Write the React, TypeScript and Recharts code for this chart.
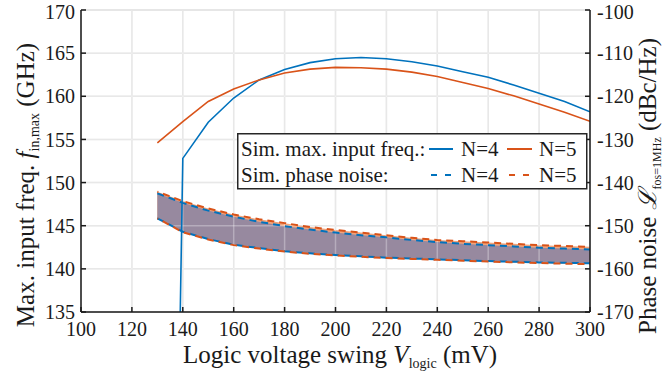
import React from 'react';
import { ComposedChart, Line, Area, XAxis, YAxis, CartesianGrid, Legend, ReferenceLine } from 'recharts';

// Logic voltage swing (mV)
const vLogic = [130, 140, 150, 160, 170, 180, 190, 200, 210, 220, 230, 240, 250, 260, 270, 280, 290, 300];
// Sim. max. input freq. (GHz)
const fmaxN4 = [-25, 152.8, 157.0, 159.8, 161.9, 163.1, 163.9, 164.35, 164.5, 164.35, 164.0, 163.5, 162.85, 162.2, 161.3, 160.35, 159.4, 158.2];
const fmaxN5 = [154.6, 157.05, 159.4, 160.85, 161.9, 162.7, 163.15, 163.35, 163.3, 163.15, 162.8, 162.3, 161.6, 160.9, 160.05, 159.1, 158.15, 157.1];
// Sim. phase noise (dBc/Hz), upper and lower bounds
const pnUpperN4 = [-142.5, -144.7, -146.5, -147.9, -149.1, -150.1, -150.9, -151.6, -152.2, -152.7, -153.3, -153.8, -154.2, -154.5, -154.8, -155.1, -155.3, -155.5];
const pnLowerN4 = [-148.3, -151.4, -153.1, -154.4, -155.2, -155.9, -156.4, -156.8, -157.1, -157.4, -157.6, -157.8, -158.0, -158.2, -158.35, -158.5, -158.6, -158.7];
const pnUpperN5 = [-142.1, -144.3, -146.0, -147.4, -148.5, -149.4, -150.3, -151.0, -151.6, -152.2, -152.8, -153.3, -153.6, -153.9, -154.2, -154.5, -154.7, -154.9];
const pnLowerN5 = [-148.3, -151.5, -153.2, -154.5, -155.3, -156.0, -156.5, -156.9, -157.2, -157.5, -157.7, -157.9, -158.1, -158.3, -158.5, -158.65, -158.8, -158.9];

const xTicks = [100, 120, 140, 160, 180, 200, 220, 240, 260, 280, 300];
const leftTicks = [135, 140, 145, 150, 155, 160, 165, 170];
const rightTicks = [-170, -160, -150, -140, -130, -120, -110, -100];

const BLUE = '#0072BD';
const ORANGE = '#D95319';
const GRID = '#dedede';
const FONT = '"Liberation Serif", "Times New Roman", serif';

const data = vLogic.map((v, i) => ({
  v,
  f4: fmaxN4[i],
  f5: fmaxN5[i],
  up4: pnUpperN4[i],
  lo4: pnLowerN4[i],
  up5: pnUpperN5[i],
  lo5: pnLowerN5[i],
  band4: [pnLowerN4[i], pnUpperN4[i]],
  band5: [pnLowerN5[i], pnUpperN5[i]],
}));

const tickStyle = { fontFamily: FONT, fontSize: 20, fill: '#1a1a1a' };

const XTitle = () => (
  <text x={340} y={363} textAnchor="middle" fontFamily={FONT} fontSize={25} fill="#1a1a1a">
    Logic voltage swing <tspan fontStyle="italic">V</tspan>
    <tspan fontSize={14} dy={5}>logic</tspan>
    <tspan dy={-5}> (mV)</tspan>
  </text>
);

const LeftTitle = () => (
  <text x={34} y={185} transform="rotate(-90 34 185)" textAnchor="middle" fontFamily={FONT} fontSize={25} fill="#1a1a1a">
    Max. input freq. <tspan fontStyle="italic">f</tspan>
    <tspan fontSize={14} dy={5}>in,max</tspan>
    <tspan dy={-5}> (GHz)</tspan>
  </text>
);

const RightTitle = () => (
  <text x={656} y={186} transform="rotate(-90 656 186)" textAnchor="middle" fontFamily={FONT} fontSize={25} fill="#1a1a1a">
    Phase noise <tspan fontStyle="italic">ℒ</tspan>
    <tspan fontSize={12} dy={5}>fos=1MHz</tspan>
    <tspan dy={-5}> (dBc/Hz)</tspan>
  </text>
);

const LegendBox = () => (
  <svg width={352} height={58} style={{ display: 'block' }}>
    <rect x={0.75} y={0.75} width={349} height={55} fill="#fff" stroke="#262626" strokeWidth={1.5} />
    <g fontFamily={FONT} fontSize={21} fill="#1a1a1a">
      <text x={4} y={23}>Sim. max. input freq.:</text>
      <text x={4} y={49}>Sim. phase noise:</text>
      <text x={224} y={23}>N=4</text>
      <text x={302} y={23}>N=5</text>
      <text x={224} y={49}>N=4</text>
      <text x={302} y={49}>N=5</text>
    </g>
    <line x1={192} x2={216} y1={16} y2={16} stroke={BLUE} strokeWidth={2} />
    <line x1={270} x2={295} y1={16} y2={16} stroke={ORANGE} strokeWidth={2} />
    <line x1={194} x2={215} y1={42} y2={42} stroke={BLUE} strokeWidth={2} strokeDasharray="6 8" />
    <line x1={272} x2={293} y1={42} y2={42} stroke={ORANGE} strokeWidth={2} strokeDasharray="6 8" />
  </svg>
);

export default function App() {
  return (
    <div style={{ position: 'absolute', left: 0, top: 0, width: 665, height: 375, background: '#fff' }}>
      <ComposedChart width={665} height={375} data={data} margin={{ top: 10, right: 0, bottom: 0, left: 0 }}>
        <CartesianGrid xAxisId="bottom" yAxisId="left" stroke={GRID} strokeWidth={1.5} vertical horizontal />
        {xTicks.slice(1, -1).map((t) => (
          <ReferenceLine key={'x' + t} xAxisId="bottom" yAxisId="left" x={t} stroke="#ffffff" strokeOpacity={0.3} strokeWidth={1.5} />
        ))}
        {leftTicks.slice(1, -1).map((t) => (
          <ReferenceLine key={'y' + t} xAxisId="bottom" yAxisId="left" y={t} stroke="#ffffff" strokeOpacity={0.3} strokeWidth={1.5} />
        ))}
        <XAxis
          xAxisId="bottom"
          dataKey="v"
          type="number"
          domain={[100, 300]}
          ticks={xTicks}
          allowDataOverflow
          height={63}
          tick={tickStyle}
          tickSize={-5}
          tickMargin={15}
          stroke="#1a1a1a"
          strokeWidth={1.5}
          label={<XTitle />}
        />
        <XAxis
          xAxisId="top"
          orientation="top"
          dataKey="v"
          type="number"
          domain={[100, 300]}
          ticks={xTicks}
          allowDataOverflow
          height={0}
          tick={false}
          tickSize={-5}
          stroke="#1a1a1a"
          strokeWidth={1.5}
        />
        <YAxis
          yAxisId="left"
          type="number"
          domain={[135, 170]}
          ticks={leftTicks}
          allowDataOverflow
          width={81}
          tick={tickStyle}
          tickSize={-5}
          tickMargin={11}
          stroke="#1a1a1a"
          strokeWidth={1.5}
          label={<LeftTitle />}
        />
        <YAxis
          yAxisId="right"
          orientation="right"
          type="number"
          domain={[-170, -100]}
          ticks={rightTicks}
          allowDataOverflow
          width={75}
          tick={{ ...tickStyle, textAnchor: 'start' }}
          tickSize={-5}
          tickMargin={12}
          stroke="#1a1a1a"
          strokeWidth={1.5}
          label={<RightTitle />}
        />
        <Area xAxisId="bottom" yAxisId="right" dataKey="band5" type="linear" fill="#f0a57d" fillOpacity={1} stroke="none" isAnimationActive={false} />
        <Area xAxisId="bottom" yAxisId="right" dataKey="band4" type="linear" fill="#97899f" fillOpacity={1} stroke="none" isAnimationActive={false} />
        <Line xAxisId="bottom" yAxisId="right" dataKey="up4" type="linear" stroke={BLUE} strokeWidth={2} strokeDasharray="7 5" dot={false} isAnimationActive={false} />
        <Line xAxisId="bottom" yAxisId="right" dataKey="lo4" type="linear" stroke={BLUE} strokeWidth={2} strokeDasharray="7 5" dot={false} isAnimationActive={false} />
        <Line xAxisId="bottom" yAxisId="right" dataKey="up5" type="linear" stroke={ORANGE} strokeWidth={2} strokeDasharray="7 5" strokeDashoffset={6} dot={false} isAnimationActive={false} />
        <Line xAxisId="bottom" yAxisId="right" dataKey="lo5" type="linear" stroke={ORANGE} strokeWidth={2} strokeDasharray="7 5" strokeDashoffset={6} dot={false} isAnimationActive={false} />
        <Line xAxisId="bottom" yAxisId="left" dataKey="f4" type="linear" stroke={BLUE} strokeWidth={1.6} dot={false} isAnimationActive={false} />
        <Line xAxisId="bottom" yAxisId="left" dataKey="f5" type="linear" stroke={ORANGE} strokeWidth={1.6} dot={false} isAnimationActive={false} />
        <Legend
          layout="vertical"
          align="center"
          verticalAlign="middle"
          wrapperStyle={{ left: 237, top: 133, width: 352, height: 58 }}
          content={() => <LegendBox />}
        />
      </ComposedChart>
    </div>
  );
}
